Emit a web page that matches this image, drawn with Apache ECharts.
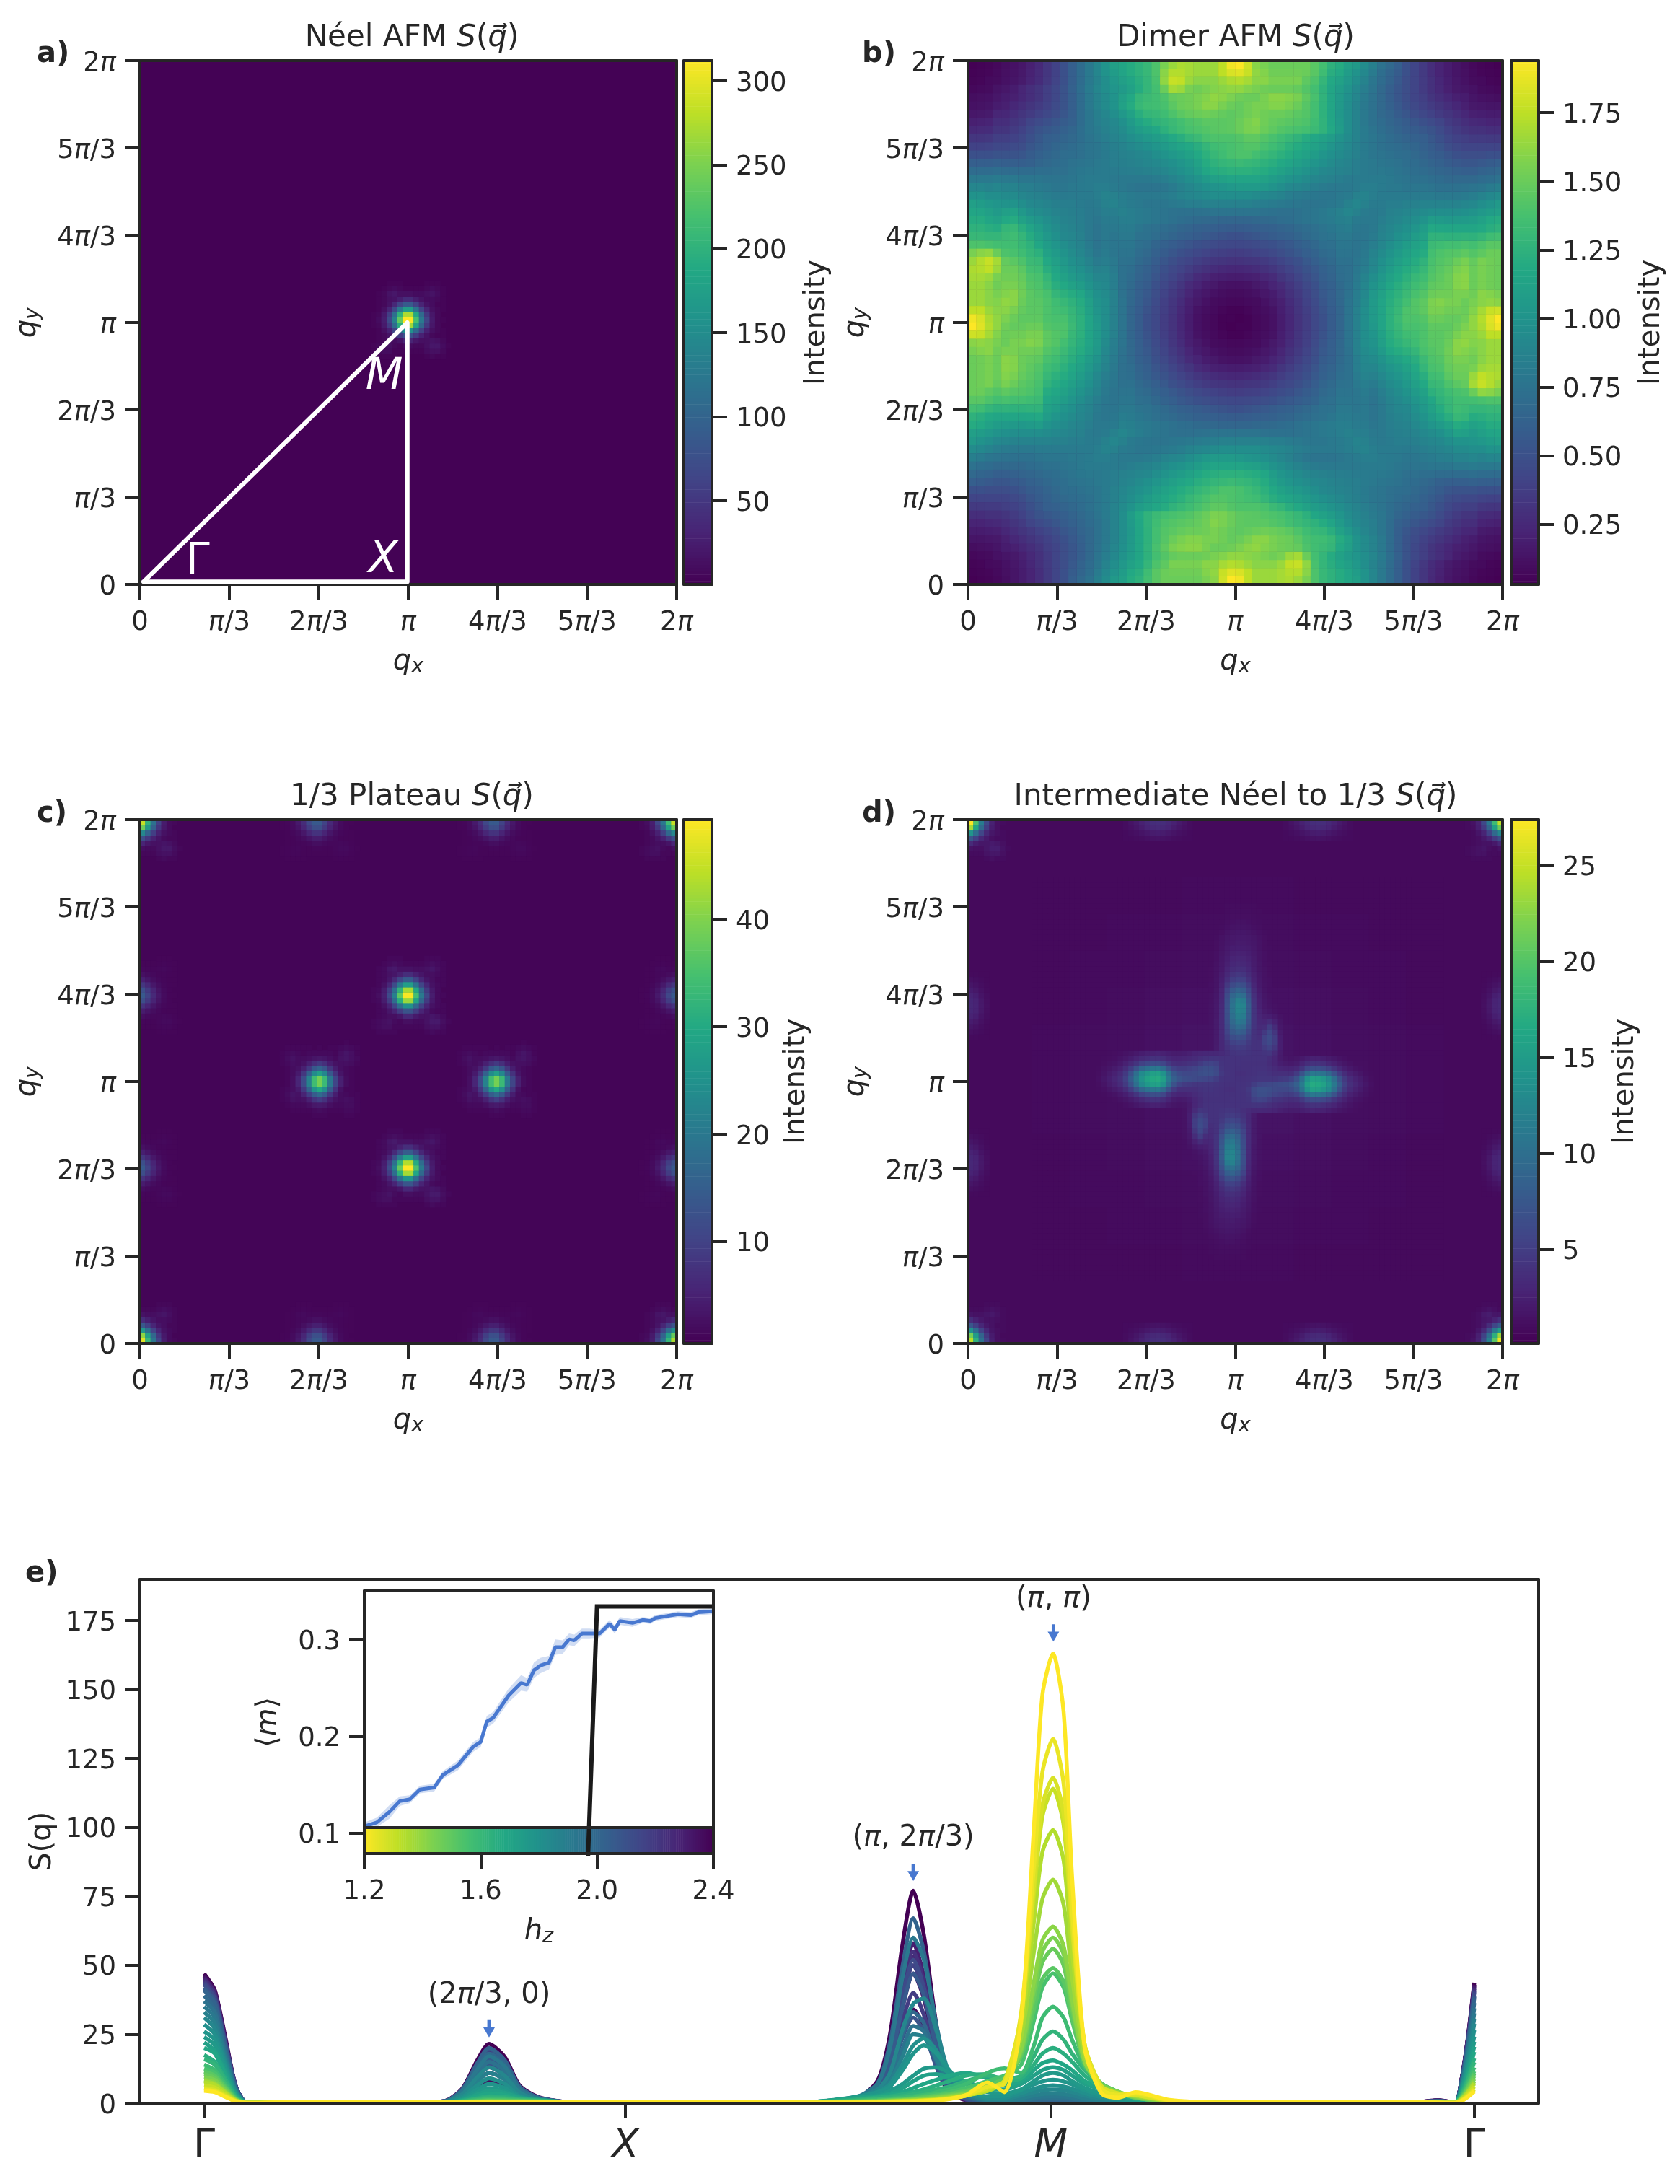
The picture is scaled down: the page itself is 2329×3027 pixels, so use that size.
<!DOCTYPE html>
<html>
<head>
<meta charset="utf-8">
<style>html,body{margin:0;padding:0;background:#fff}#chart{width:2329px;height:3027px}</style>
<script src="https://cdn.jsdelivr.net/npm/echarts@6/dist/echarts.min.js"></script>
</head>
<body>
<div id="chart"></div>
<script>
var piTicks = ['0', '{i|π}/3', '2{i|π}/3', '{i|π}', '4{i|π}/3', '5{i|π}/3', '2{i|π}'];
var viridisStops = ['#440154', '#482475', '#414487', '#355f8d', '#2a788e', '#21918c', '#22a884', '#44bf70', '#7ad151', '#bddf26', '#fde725'];

// panels a, c: shape of one bright spot, percent of its peak, 15 x 15 cells, top row first
var spotProfile = [
    [0,0,0,1,1,1,0,0,0,0,1,1,1,0,0],
    [0,0,1,2,3,2,1,1,1,1,2,3,2,1,0],
    [0,1,2,5,6,4,4,4,3,3,4,5,3,1,0],
    [0,1,2,4,5,8,12,12,8,5,3,3,2,1,0],
    [0,1,2,5,11,20,28,28,19,10,5,3,1,1,0],
    [0,1,4,10,22,40,55,55,38,20,10,4,2,1,0],
    [1,2,7,18,36,64,87,87,60,34,16,6,2,0,0],
    [1,3,8,22,43,75,100,100,70,40,20,7,2,1,0],
    [1,2,7,17,35,62,85,85,58,33,16,6,2,0,0],
    [0,1,4,9,20,36,50,50,34,19,9,4,2,1,0],
    [0,1,2,5,9,17,25,25,17,9,5,2,1,1,0],
    [0,1,2,3,3,5,10,10,6,4,4,5,4,2,0],
    [1,2,3,4,2,1,3,3,2,2,4,6,6,3,1],
    [1,2,3,3,1,1,1,1,1,1,3,4,4,2,0],
    [0,1,1,1,1,0,0,0,0,0,1,2,1,1,0]
];
var neelSpotX = [50], neelSpotY = [50], neelSpotPeak = [312];
var plateauSpotX = [50, 50, 0, 0, 100, 100, 0, 0, 100, 100, 33, 66, 33, 66];
var plateauSpotY = [66, 33, 0, 99, 0, 99, 33, 66, 33, 66, 0, 0, 99, 99];
var plateauSpotPeak = [48, 49, 46, 44, 42, 44, 13, 13, 13, 13, 13, 13, 13, 13];
var plateauSideX = [33, 66], plateauSideY = [50, 50], plateauSidePeak = [38, 38];

// panel b: top triangle of a 64 x 64 map, value x 100, row r runs from column r to column 63-r
var dimerRows = [
    [3,4,5,7,10,12,15,20,25,33, 40,50,60,70,80,90,100,110,115,120, 125,130,140,155,165,170,168,165,165,165, 175,190,194,180,160,155,150,150,150,150, 150,144,136,125,120,110,105,95,85,75, 68,60,50,42,35,28,22,18,14,10, 7,5,4,3],
    [5,6,8,11,13,16,21,26,33, 40,50,60,70,80,90,100,108,114,120, 125,130,140,160,172,172,168,165,165,165, 175,183,185,178,162,158,152,152,152,152, 150,144,134,122,118,108,100,92,82,72, 65,58,50,42,35,28,22,18,14,11, 8,6,5],
    [8,9,12,14,17,22,27,34, 41,50,60,70,80,88,96,104,110,115, 122,128,138,162,178,176,165,160,160,160, 165,170,172,168,160,160,155,155,155,155, 146,140,128,118,112,104,96,88,78,70, 63,56,48,42,36,30,24,19,15,12, 9,8],
    [13,15,18,23,28,32,38, 44,52,62,72,82,90,96,102,106,112, 120,128,136,150,168,165,155,152,155,158, 160,162,162,158,155,152,150,150,150,148, 142,136,125,115,108,100,92,84,76,68, 60,54,48,42,36,30,25,20,16,14, 12],
    [18,20,24,28,32,38, 44,52,60,70,80,88,94,100,110,118, 128,132,135,140,148,150,152,155,158,162, 160,156,152,150,150,155,160,160,158,155, 146,138,126,115,106,98,90,82,75,68, 60,54,48,42,38,32,28,24,20,18],
    [24,28,32,36,40, 46,52,60,70,80,88,94,100,112,120, 130,134,135,138,145,150,152,155,160,160, 155,150,148,152,155,155,158,158,155,150, 143,136,125,115,105,96,88,80,74,68, 62,56,50,45,40,36,32,28,24],
    [32,36,40,44, 48,54,60,70,78,85,90,96,104,112, 122,128,130,134,140,145,148,150,152,150, 148,146,148,152,155,152,150,150,148,145, 142,136,125,115,104,96,88,80,74,68, 64,58,54,48,44,40,36,32],
    [42,46,50, 54,58,62,70,78,84,88,92,98,106, 114,120,125,128,132,136,140,142,145,145, 145,146,150,155,158,152,148,146,144,142, 140,134,126,116,106,96,88,80,74,70, 66,62,58,54,50,46,42],
    [52,55, 58,62,66,72,78,82,86,90,95,102, 108,112,116,124,130,134,138,140,142,144, 145,146,150,155,156,150,146,142,140,138, 136,132,126,118,108,96,88,82,76,72, 68,64,60,58,55,52],
    [60, 62,65,68,72,76,80,84,88,92,96, 100,104,108,112,118,122,128,132,138,140, 140,140,142,146,146,142,138,134,130,126, 120,116,112,108,100,94,88,82,78,74, 70,67,64,62,60],
    [66,68,70,73,76,78,82,85,88,92, 95,98,102,106,110,114,118,122,128,134, 136,138,140,142,142,138,134,130,124,120, 116,112,108,102,96,92,86,82,78,74, 72,70,68,66],
    [71,72,73,76,78,81,84,86,88, 90,92,96,100,104,108,112,118,124,130, 134,138,140,140,136,132,128,124,120,116, 112,108,102,98,94,90,86,82,78,76, 74,72,71],
    [75,76,78,80,82,84,85,86, 88,90,92,95,98,102,106,112,120,125, 128,130,132,130,128,125,122,118,114,110, 106,102,98,94,90,88,84,82,80,78, 76,75],
    [79,80,81,82,82,83,84, 85,86,88,90,94,98,102,108,116,120, 122,124,124,124,122,120,116,112,108,104, 100,96,92,90,88,86,84,82,80,80, 79],
    [82,82,82,80,80,80, 80,80,82,84,88,92,96,100,106,110, 112,114,114,114,114,112,108,104,100,98, 94,90,88,86,84,82,82,82,82,82],
    [84,84,82,80,78, 76,76,76,78,82,86,90,94,98,100, 102,104,106,106,106,104,100,96,92,90, 88,84,82,80,80,80,82,84,84],
    [88,86,84,82,80,80,80,82,84,88,90,92,94,96,96,96, 96,96,94,92,90,88,84,82,80,79,78,78,80,82,86,88],
    [88,84,82,80,78,78,78,80,82,84,84,86,86,86,86, 86,86,84,83,82,80,79,78,76,76,77,79,81,86,90],
    [86,84,82,80,78,76,75,74,74,74,75,76,76,76, 76,76,76,75,74,73,73,74,76,78,80,83,86,90],
    [84,82,80,78,76,74,72,70,69,68,67,66,66, 66,66,67,68,69,71,72,74,76,78,80,82,85],
    [78,75,73,71,69,66,64,62,61,60,59,58, 58,59,60,61,62,64,66,69,71,73,76,79],
    [74,71,68,65,62,60,58,56,54,52,50, 50,52,54,56,58,60,62,65,69,72,75],
    [65,62,59,56,53,50,48,46,45,44, 44,45,46,48,50,53,56,60,63,67],
    [58,54,50,47,44,41,39,38,37, 37,38,40,42,45,48,52,56,60],
    [49,45,42,38,35,33,32,31, 31,32,33,35,38,42,46,50],
    [41,37,33,30,27,25,24, 24,25,27,30,33,37,41],
    [32,26,23,20,19,18, 18,19,20,23,26,32],
    [22,18,16,13,12, 12,13,16,18,22],
    [15,12,10,9, 9,10,12,15],
    [9,8,7, 7,8,9],
    [6,4, 4,6],
    [4,3]
];

// panel d: upper arm, rows dy = 33..1 above the centre, columns dx = -5..9
var crossUpperArm = [
    [.8,.9,.9,1,1,1,1,1,1,.9,.9,.8,.8,.8,.8],
    [.8,.9,.9,1,1.1,1.1,1.1,1.1,1,1,.9,.8,.8,.8,.8],
    [.9,.9,1,1.1,1.2,1.2,1.2,1.2,1.1,1,.9,.9,.8,.8,.8],
    [.9,.9,1,1.2,1.3,1.4,1.4,1.3,1.2,1.1,1,.9,.9,.8,.8],
    [.9,1,1.1,1.3,1.5,1.6,1.6,1.5,1.3,1.2,1,.9,.9,.8,.8],
    [1,1,1.2,1.5,1.7,1.8,1.8,1.7,1.5,1.3,1.1,1,.9,.9,.8],
    [1,1.1,1.4,1.7,1.9,2,2,1.9,1.7,1.4,1.2,1,1,.9,.9],
    [1,1.2,1.5,1.8,2,2.2,2.1,2,1.8,1.5,1.2,1,1,.9,.9],
    [1,1.2,1.6,2,2.3,2.4,2.3,2.2,1.9,1.5,1.2,1.1,1,1,.9],
    [1.1,1.3,1.7,2.1,2.5,2.7,2.6,2.4,2,1.6,1.3,1.1,1,1,.9],
    [1.1,1.3,1.8,2.3,2.8,3,2.9,2.6,2.1,1.6,1.3,1.1,1,1,.9],
    [1.1,1.4,1.9,2.5,3.1,3.3,3.2,2.8,2.2,1.7,1.3,1.2,1,1,.9],
    [1.2,1.5,2,2.8,3.5,3.8,3.7,3.1,2.3,1.7,1.4,1.2,1,1,.9],
    [1.2,1.5,2.2,3.2,4.1,4.5,4.3,3.5,2.5,1.8,1.4,1.2,1,1,.9],
    [1.2,1.6,2.4,3.7,5,5.4,5.2,4,2.7,1.9,1.4,1.3,1.1,1,1],
    [1.3,1.6,2.6,4.5,6.2,7,6.6,5,3,2,1.5,1.3,1.1,1,1],
    [1.3,1.7,2.9,5.5,7.8,8.8,8.2,6,3.4,2.2,1.6,1.3,1.2,1,1],
    [1.4,1.8,3,6.2,9,10.3,9.8,6.8,3.8,2.4,1.7,1.4,1.2,1,1],
    [1.4,1.9,3.2,6.6,10,12,11.5,7.5,4,2.5,1.8,1.5,1.3,1.1,1],
    [1.5,2,3.3,6.8,10.5,12.6,12.2,8,4.2,2.6,1.9,1.6,1.4,1.2,1.1],
    [1.5,2,3.4,6.8,10.5,12.4,12,8,4.2,2.8,2.1,1.8,1.5,1.3,1.1],
    [1.5,2,3.4,6.6,10,11.8,11.5,7.8,4.2,3,2.5,2.4,2,1.5,1.2],
    [1.5,2.1,3.4,6.4,9.4,11,10.6,7.4,4.2,3.2,3,3.5,2.6,1.7,1.3],
    [1.6,2.1,3.4,6,8.6,9.8,9.4,6.8,4.2,3.4,3.6,5,3.5,1.9,1.4],
    [1.6,2.1,3.4,5.6,7.6,8.4,8,6,4,3.6,4.6,6,4.4,2.1,1.4],
    [1.6,2.1,3.3,5,6.4,6.9,6.6,5.2,4,3.8,5.4,6.4,5,2.3,1.5],
    [1.6,2.1,3.2,4.4,5.4,5.8,5.6,4.7,4,4,5.4,6.2,5,2.4,1.5],
    [1.6,2.2,3.2,4,4.6,4.9,4.8,4.4,4,4,4.8,5.4,4.4,2.4,1.5],
    [1.7,2.4,3.2,3.8,4.2,4.4,4.4,4.2,4,4,4.2,4.4,3.4,2.2,1.5],
    [1.9,2.8,3.4,3.8,4,4,4,4,4,4,4,3.6,3,2.1,1.6],
    [2.3,3,3.6,3.8,4,4,3.9,3.9,3.9,3.9,3.9,3.5,3,2.3,2],
    [3,3.6,3.9,4,4,3.9,3.9,3.8,3.8,3.8,3.8,3.6,3.2,3,2.8],
    [4,4,4,4,3.9,3.8,3.8,3.8,3.8,3.8,3.8,3.8,3.8,3.8,3.8]
];
// panel d: left arm, rows dy = 5..-5, columns dx = -26..-1
var crossLeftArm = [
    [1,1,1.1,1.2,1.3,1.5,1.7,2,2.3,2.6,2.7,2.8,2.6,2.4,2.2,2.2,2.3,2.5,2.8,3,3.1,3.2,3.2,3.4,3.8,4],
    [1,1.1,1.2,1.3,1.6,1.9,2.3,2.8,3.3,3.7,4,4,3.8,3.2,2.8,2.8,3,3.2,3.4,3.8,4,4.2,4.2,4,4,4],
    [1,1.2,1.4,1.6,2,2.6,3.3,4.2,5.3,6,6.4,6.4,5.8,4.6,3.8,3.6,3.8,4,4.2,4.8,5.4,5.6,5.2,4.2,4,4],
    [1.1,1.4,1.7,2.1,2.6,3.6,5,7,9,10.2,10.8,11,9.8,7.4,5.5,5,5,5.2,5.6,6.2,6.6,6.6,6,4.4,4,4],
    [1.2,1.6,2.1,2.6,3.3,4.6,7,10,13,14.4,15.4,15.6,14,10.4,7.5,6.4,6,6,6.2,6.6,6.8,6.8,6.2,4.6,4.1,4],
    [1.3,1.8,2.4,3,3.8,5.2,8,11,14,15.8,16.6,16.8,15.4,11.4,8.4,7.2,6.6,6.4,6.2,6,5.8,5.6,5,4.2,4,4],
    [1.2,1.6,2.2,2.7,3.4,4.7,7,10,13,14.6,15.4,15.6,14,10.2,7,5.4,4.8,4.6,4.4,4.4,4.4,4.4,4.2,4,3.9,3.9],
    [1.1,1.3,1.7,2.1,2.6,3.5,5,7,9.2,10.4,10.8,11,9.6,7,4.8,3.8,3.6,3.6,3.8,4,4.2,4.2,4,3.9,3.8,3.8],
    [1,1.1,1.3,1.5,1.9,2.4,3.2,4.2,5.4,6.2,6.6,6.6,5.8,4.2,3.2,2.8,2.8,3,3.4,3.8,4,4,4,3.9,3.8,3.8],
    [1,1,1.1,1.2,1.4,1.7,2.1,2.6,3.2,3.8,4,4,3.6,2.8,2.2,2,2.1,2.4,2.8,3.2,3.4,3.6,3.8,3.8,3.8,3.8],
    [.9,1,1,1,1.1,1.3,1.5,1.8,2.1,2.4,2.6,2.6,2.4,2,1.7,1.6,1.7,1.9,2.2,2.4,2.6,2.8,3.2,3.6,3.6,3.6]
];
// panel d: low glow round the cross, blocks of 7 x 7 cells
var crossHalo = [
    [.8,.8,.8,.8,.9,.9,.9,.8,.8,.8,.8],
    [.8,.8,.9,.9,1,1,1,.9,.9,.8,.8],
    [.8,.9,.9,1,1.1,1.2,1.1,1,.9,.9,.8],
    [.8,.9,1,1.2,1.3,1.4,1.3,1.2,1,.9,.8],
    [.9,1,1.1,1.3,1.5,1.6,1.5,1.3,1.1,1,.9],
    [.9,1,1.2,1.4,1.6,1.8,1.6,1.4,1.2,1,.9],
    [.9,1,1.1,1.3,1.5,1.6,1.5,1.3,1.1,1,.9],
    [.8,.9,1,1.2,1.3,1.4,1.3,1.2,1,.9,.8],
    [.8,.9,.9,1,1.1,1.2,1.1,1,.9,.9,.8],
    [.8,.8,.9,.9,1,1,1,.9,.9,.8,.8],
    [.8,.8,.8,.8,.9,.9,.9,.8,.8,.8,.8]
];
// panel d: faint blob on the edges, row 0 lies on the edge
var crossEdgeBlob = [
    [1,1.5,2,2.6,3.2,3.6,3.7,3.6,3.2,2.6,2,1.5,1],
    [1,1.3,1.7,2.2,2.8,3.2,3.3,3.2,2.8,2.2,1.7,1.3,1],
    [.9,1.1,1.3,1.6,1.9,2.2,2.3,2.2,1.9,1.6,1.3,1.1,.9],
    [.9,.9,1,1.1,1.3,1.4,1.5,1.4,1.3,1.1,1,.9,.9]
];
var crossBlobPos = [35, 65];
var crossCornerPeak = [27, 24, 24, 26];

// panel e: path positions, Gamma = 0, X = 1, M = 2, Gamma = 3
var qGamma = [0, .025, .05, .075, .1];
var qFlatA = [.2, .35, .5];
var qPeak1 = [.57, .61, .645, .673, .71, .745, .79];
var qFlatB = [.87, 1, 1.2, 1.36];
var qBand = [1.45, 1.53, 1.59, 1.62, 1.65, 1.675, 1.7, 1.73, 1.76, 1.8, 1.85, 1.89, 1.93, 1.96, 1.98, 2.005, 2.03, 2.05, 2.08, 2.12, 2.16, 2.2, 2.28, 2.4];
var qFlatC = [2.5, 2.7, 2.86];
var qEnd = [2.915, 2.955, 2.97, 2.985, 3];
var flatLevel = 0.3, tailLevel = 0.2;
var curveHz = [2.4,2.37,2.33,2.3,2.26,2.23,2.19,2.16,2.13,2.09,2.06,2.02,1.99,1.95,1.92,1.88,1.85,1.81,1.78,1.76,1.72,1.69,1.65,1.62,1.58,1.55,1.51,1.48,1.44,1.41,1.37,1.34,1.3,1.27,1.235,1.2];
var gammaRows = [
    [47,41,24,6,.4],[46.5,41,23,6,.4],[46,40,23,6,.4],[45.5,40,23,6,.4],[45,40,22,6,.4],[44.5,39,22,6,.4],[44,39,22,6,.4],[43.5,38,22,6,.4],[43,38,21,6,.4],
    [42,37,21,5.5,.4],[41.5,37,21,5.5,.4],[41,36,20,5.3,.4],[39,34,19,5,.4],[37,33,18,4.8,.4],[35,31,17,4.6,.3],[33,29,16,4.3,.3],[31,27,15,4,.3],[28.5,25,14,3.7,.3],
    [26,23,13,3.4,.3],[24,21,12,3.1,.3],[22,19,11,2.9,.2],[20,18,10,2.6,.2],[17.5,15,8.8,2.3,.2],[16,14,8,2.1,.2],[14,12,7,1.8,.2],[12.5,11,6.2,1.6,.2],[11.5,10,5.7,1.5,.2],
    [10.5,9.2,5.2,1.4,.1],[9.5,8.4,4.7,1.2,.1],[8.5,7.5,4.2,1.1,.1],[8,7,4,1,.1],[7.5,6.6,3.7,1,.1],[6.5,5.7,3.2,.9,.1],[5.5,4.8,2.8,.8,.1],[5,4.4,2.5,.7,.1],[4.5,4,2.3,.6,.1]
];
var peak1Rows = [
    [.9,5.4,15.5,21.5,16.8,6.5,2.2],[.3,2,5.8,8,6.2,2.4,.8],[.5,3.3,9.4,13,10,3.9,1.3],[.8,4.8,13.7,19,14.8,5.7,1.9],[.6,3.8,10.8,15,11.7,4.5,1.5],[.8,5,14.4,20,15.6,6,2],
    [.4,2.8,7.9,11,8.6,3.3,1.1],[.7,4.3,12.2,17,13.3,5.1,1.7],[.8,4.9,14,19.5,15.2,5.9,2],[.6,3.5,10,14,10.9,4.2,1.4],[.6,4,11.5,16,12.5,4.8,1.6],[.8,5,14.4,20,15.6,6,2],
    [.7,4.5,13,18,14,5.4,1.8],[.6,3.8,10.8,15,11.7,4.5,1.5],[.7,4.3,12.2,17,13.3,5.1,1.7],[.4,2.8,7.9,11,8.6,3.3,1.2],[.5,3.3,9.4,13,10,3.9,1.3],[.4,2.3,6.5,9,7,2.7,1.2],
    [.3,1.8,5,7,5.5,2.4,1.2],[.3,1.4,4,5.5,4.4,2.2,1.2],[.3,1.2,3.2,4.5,3.8,2,1.2],[.3,1,2.5,3.5,3,1.8,1.1],[.3,.8,1.8,2.5,2.2,1.5,1],[.3,.7,1.5,2,1.8,1.3,.9],
    [.3,.6,1.1,1.5,1.4,1.1,.8],[.3,.5,.9,1.2,1.1,.9,.7],[.3,.4,.8,1,.9,.8,.6],[.3,.4,.6,.8,.8,.7,.5],[.3,.3,.5,.7,.6,.5,.4],[.3,.3,.5,.6,.6,.5,.4],
    [.3,.3,.4,.5,.5,.4,.3],[.3,.3,.4,.5,.5,.4,.3],[.3,.3,.4,.5,.5,.4,.3],[.3,.3,.4,.5,.5,.4,.3],[.3,.3,.4,.5,.5,.4,.3],[.3,.3,.4,.5,.5,.4,.3]
];
var bandRows = [
    [.2,.8,8,25,58,77,61,28,8,2,.5],[.2,.6,4,11,26,34,28,13,4,1],[.2,.7,5,15,35,47,38,17,5,1.2],[.2,.8,6,19,44,58,46,21,6,1.5],[.2,.7,5,17,40,53,42,20,6,1.5],[.2,.8,6,18,42,55,44,20,6,1.5],
    [.2,.6,4,13,30,40,32,15,5,1.3],[.2,.8,5,17,38,50,40,19,6,1.6],[.3,.9,5,17,39,52,42,21,7,2],[.3,.6,3,10,24,31,26,13,5,1.6],[.3,.9,5,15,35,47,39,20,7,2],[.3,1,7,22,50,67,55,27,9,2.5,.5],
    [.3,1,4,11,25,33,29,16,7,2.5,.6,.4,.7,1.1,1.4,1.5,1.4,1.1,.7,.4],
    [.3,1,4,9,20,28,26,15,7,3,.8,.6,1,1.6,1.9,2,1.9,1.6,1,.5,.3],
    [.4,1.5,7,20,46,60,52,28,10,3,1,.8,1.3,2,2.4,2.5,2.4,2,1.3,.7,.3],
    [.4,1.5,4,8,17,25,24,16,8,3.5,1.2,1,1.8,2.8,3.3,3.5,3.3,2.8,1.8,1,.5],
    [.5,2,5,11,27,36,38,26,11,4,1.5,1.5,2.8,4,4.7,5,4.7,4,2.7,1.6,.8,.3],
    [.5,2,4,7,14,21,23.5,19,10,4.5,2,2,3.6,5.2,6,6.5,6,5.2,3.6,2.2,1.2,.5],
    [.6,2,4,6,12,18,21,18,12,5,2.5,2.6,4.7,6.8,7.9,8.5,7.9,6.8,4.7,2.8,1.5,.7,.3],
    [.6,2,3,4.5,7,10,12.5,13,11,7,4,3.5,5,8,10,11,10,8,5.5,3.5,2,1,.4],
    [.6,1.8,2.6,3.5,5.5,8,10,10.5,9.5,8,5,5,7,10,12,13,12,10,7,5,3,1.5,.5],
    [.6,1.5,2.3,3,4,5.5,7,8.5,10,11,9,6.5,8,12,14.5,15.5,14,12,8,5,3,1.5,.5],
    [.5,1.2,2,2.5,3.2,4,5,6.5,8,10,10.5,8,9,14,18,20,18,15,10,6,3.5,1.8,.5],
    [.4,1,1.6,2,2.6,3.2,4,5,6,8,10,9,10,17,23,26,23,18,12,7,4,2,.6],
    [.3,.8,1.3,1.6,2,2.5,3,4,5,7,11,12.6,11,21,31,35,31,23,13,7,4,2,.6],
    [.3,.7,1,1.3,1.6,2,2.6,3.3,4,5.5,8,10,14,30,42,47,42,30,15,7,4,2,.6],
    [.2,.6,.9,1.1,1.4,1.7,2.2,2.8,3.4,4.5,6.5,9,17,34,45,49,44,31,14,7,4,2,.6],
    [.2,.5,.8,1,1.2,1.5,1.9,2.4,3,4,5.5,8,18,38,51,56,50,34,15,7,4,2,.6],
    [.2,.4,.7,.9,1.1,1.3,1.6,2.1,2.7,3.5,5,8,19,41,55,60,54,36,15,6.5,4,2.2,.6],
    [.2,.4,.6,.8,1,1.2,1.4,1.8,2.4,3.2,4.5,7.5,20,44,59,64,57,38,15,6,4,2.4,.7],
    [.2,.3,.5,.7,.9,1,1.2,1.6,2.1,3,4.5,8,24,55,74,81,72,46,17,6,3.5,2.6,.8],
    [.2,.3,.5,.6,.8,.9,1.1,1.4,1.9,2.8,4.5,8,28,66,91,99,88,55,19,6,3.5,2.8,.8],
    [.2,.3,.4,.6,.7,.8,1,1.3,1.8,2.8,5,8,31,76,104,114,101,63,21,6,3.5,3,.9],
    [.2,.3,.4,.5,.7,.8,1,1.2,1.7,2.8,5.5,8,32,79,108,118,105,65,21,6,3.5,3,.9],
    [.2,.3,.4,.5,.6,.7,.9,1.2,1.6,2.8,6,7,33,86,120,132,116,70,21,5,3,3.5,1],
    [.2,.2,.3,.4,.5,.6,.8,1.1,1.5,3,7.5,4,30,100,148,163,142,82,20,3.5,2,4,1.2]
];
var endRows = [
    [1.1,.2,8.7,24,43.7],[1,.2,8.6,23.6,43],[1,.2,8.6,23.5,42.8],[1,.2,8.5,23.3,42.3],[.9,.2,8.4,23,41.9],[.9,.2,8.3,22.8,41.4],[.9,.2,8.2,22.5,40.9],[.9,.2,8.1,22.3,40.5],[.8,.2,8,22,40],
    [.8,.2,7.8,21.5,39],[.8,.2,7.7,21.2,38.6],[.7,.2,7.6,21,38.1],[.7,.2,7.3,20,36.3],[.6,.2,6.9,18.9,34.4],[.6,.2,6.5,17.9,32.6],[.5,.2,6.1,16.9,30.7],[.5,.2,5.8,15.8,28.8],[.5,.2,5.3,14.6,26.5],
    [.4,.2,4.8,13.3,24.2],[.4,.2,4.5,12.3,22.3],[.4,.2,4.1,11.3,20.5],[.3,.2,3.7,10.2,18.6],[.3,.2,3.3,9,16.3],[.3,.2,3,8.2,14.9],[.3,.2,2.6,7.2,13],[.2,.2,2.3,6.4,11.6],[.2,.2,2.1,5.9,10.7],
    [.2,.2,2,5.4,9.8],[.2,.2,1.8,4.8,8.8],[.2,.1,1.6,4.3,7.9],[.2,.1,1.5,4.1,7.4],[.2,.1,1.4,3.9,7],[.2,.1,1.2,3.3,6],[.2,.1,1,2.8,5.1],[.2,.1,.9,2.6,4.7],[.2,.1,.8,2.3,4.2]
];
var xTickValues = [0, .995, 2, 3];
var xTickLabels = ['Γ', '{i|X}', '{i|M}', 'Γ'];
var sTicks = [0, 25, 50, 75, 100, 125, 150, 175];
var annotQ = [.673, 1.675, 2.006];
var annotArrowY = [27, 83.7, 170.5];
var annotTextY = [39, 96, 182.8];
var annotText = ['(2{i|π}/3, 0)', '({i|π}, 2{i|π}/3)', '({i|π}, {i|π})'];

// inset
var insetHz = [1.2,1.243,1.287,1.322,1.357,1.391,1.44,1.47,1.522,1.574,1.6,1.621,1.643,1.696,1.739,1.76,1.783,1.805,1.835,1.857,1.882,1.904,1.922,1.948,1.974,2.009,2.043,2.061,2.078,2.122,2.157,2.183,2.2,2.278,2.322,2.348,2.396];
var insetM = [.107,.111,.122,.133,.135,.145,.147,.16,.17,.189,.194,.215,.219,.242,.255,.253,.268,.273,.276,.292,.292,.3,.299,.306,.306,.306,.316,.31,.319,.317,.32,.319,.322,.326,.325,.328,.329];
var insetErr = [.004,.005,.007,.005,.004,.004,.004,.004,.005,.005,.005,.006,.006,.007,.008,.007,.008,.008,.007,.008,.007,.006,.006,.005,.005,.004,.004,.004,.004,.004,.003,.003,.003,.003,.003,.003,.003];
var plateauHz = [1.2, 1.96, 2, 2.4];
var plateauM = [0, 0, .334, .334];

var FONT = 'DejaVu Sans', INK = '#262626', TICK_SIZE = 37, GRID_N = 100;
var richI = {i: {fontFamily: FONT, fontStyle: 'italic', fontSize: TICK_SIZE, color: INK}};

function viridis(t) {
    t = Math.max(0, Math.min(1, t)) * (viridisStops.length - 1);
    var i = Math.min(Math.floor(t), viridisStops.length - 2), f = t - i;
    var a = viridisStops[i], b = viridisStops[i + 1], out = [];
    for (var k = 1; k < 7; k += 2) {
        out.push(Math.round(parseInt(a.substr(k, 2), 16) * (1 - f) + parseInt(b.substr(k, 2), 16) * f));
    }
    return 'rgb(' + out.join(',') + ')';
}

var option = {
    animation: false, backgroundColor: '#fff', textStyle: {fontFamily: FONT, color: INK},
    title: [], grid: [], xAxis: [], yAxis: [], series: [], visualMap: []
};

function catData(n) {
    var d = [];
    for (var i = 0; i < n; i++) d.push(i);
    return d;
}
function lineAxis(extra) {
    var a = {show: true, z: 5, silent: true, splitLine: {show: false}, axisLine: {show: true, onZero: false, lineStyle: {color: INK, width: 4}},
        axisTick: {show: false}, axisLabel: {show: false}};
    for (var k in extra) a[k] = extra[k];
    return a;
}
function tickAxis(extra, margin, fmt, values) {
    var a = lineAxis(extra);
    a.axisTick = {show: true, length: 21, lineStyle: {color: INK, width: 4}};
    a.axisLabel = {show: true, margin: margin, color: INK, fontFamily: FONT, fontSize: TICK_SIZE, formatter: fmt, rich: richI};
    if (extra.position == 'left' || extra.position == 'right') a.axisLabel.padding = [8, 0, 0, 0];
    if (values) {
        a.axisTick.customValues = values;
        a.axisLabel.customValues = values;
    }
    return a;
}
function addTitle(text, x, y, size, weight, align) {
    option.title.push({text: text, left: x, top: y, textAlign: align, textVerticalAlign: 'middle',
        textStyle: {fontFamily: FONT, fontSize: size, fontWeight: weight, color: INK,
            rich: {i: {fontFamily: FONT, fontStyle: 'italic', fontSize: size, color: INK}}}});
}
function subName(base, sub) {
    return '{b|' + base + '}{s|' + sub + '}';
}
var nameRich = {
    b: {fontFamily: FONT, fontStyle: 'italic', fontSize: 40, color: INK},
    s: {fontFamily: FONT, fontStyle: 'italic', fontSize: 29, color: INK, padding: [14, 0, 0, 0]}
};

// one heat map with its colour bar; returns the axis indexes of the panel
function addHeatPanel(p) {
    var g = option.grid.length;
    option.grid.push({left: p.x0, top: p.y0, width: p.x1 - p.x0, height: p.y1 - p.y0, show: true, borderWidth: 0,
        backgroundColor: viridis((p.bg - p.min) / (p.max - p.min))});
    var xi = option.xAxis.length, yi = option.yAxis.length;
    option.xAxis.push(lineAxis({type: 'category', gridIndex: g, position: 'top', data: catData(p.n)}));
    option.yAxis.push(lineAxis({type: 'category', gridIndex: g, position: 'right', data: catData(p.n)}));
    var fmtPi = function(v) { return piTicks[Math.round(v)]; };
    var xv = tickAxis({type: 'value', gridIndex: g, position: 'bottom', min: 0, max: 6, interval: 1,
        name: subName('q', 'x'), nameLocation: 'middle', nameGap: 86, nameTextStyle: {rich: nameRich}}, 35, fmtPi);
    var yv = tickAxis({type: 'value', gridIndex: g, position: 'left', min: 0, max: 6, interval: 1,
        name: subName('q', 'y'), nameLocation: 'middle', nameGap: 134, nameRotate: 90, nameTextStyle: {rich: nameRich}}, 33, fmtPi);
    option.xAxis.push(xv);
    option.yAxis.push(yv);
    var heatIdx = option.series.length;
    option.series.push({type: 'heatmap', xAxisIndex: xi, yAxisIndex: yi, data: p.cells, silent: true, progressive: 0, emphasis: {disabled: true}});

    // colour bar
    var cg = option.grid.length, levels = [], N = 160;
    option.grid.push({left: p.cx0, top: p.y0, width: p.cx1 - p.cx0, height: p.y1 - p.y0, show: false});
    for (var i = 0; i < N; i++) levels.push([0, i, p.min + (i + .5) / N * (p.max - p.min)]);
    var cxi = option.xAxis.length, cyi = option.yAxis.length;
    option.xAxis.push(lineAxis({type: 'category', gridIndex: cg, position: 'bottom', data: [0]}));
    option.xAxis.push(lineAxis({type: 'value', gridIndex: cg, position: 'top', min: 0, max: 1}));
    option.yAxis.push(lineAxis({type: 'category', gridIndex: cg, position: 'left', data: catData(N)}));
    option.yAxis.push(tickAxis({type: 'value', gridIndex: cg, position: 'right', min: p.min, max: p.max,
        name: 'Intensity', nameLocation: 'middle', nameRotate: 90, nameGap: p.labelGap,
        nameTextStyle: {fontFamily: FONT, fontSize: 40, color: INK}}, 33,
        function(v) { return v.toFixed(p.digits); }, p.ticks));
    var barIdx = option.series.length;
    option.series.push({type: 'heatmap', xAxisIndex: cxi, yAxisIndex: cyi, data: levels, silent: true, progressive: 0, emphasis: {disabled: true}});
    option.visualMap.push({show: false, type: 'continuous', seriesIndex: [heatIdx, barIdx], dimension: 2, min: p.min, max: p.max, inRange: {color: viridisStops}});
    return {x: xi + 1, y: yi + 1};
}

// cells of a GRID_N x GRID_N map, only those above the background
function putCell(map, x, y, v) {
    if (x < 0 || y < 0 || x >= GRID_N || y >= GRID_N) return;
    var k = y * GRID_N + x;
    if (!(k in map) || map[k] < v) map[k] = v;
}
function stampSpots(map, bg, xs, ys, peaks, swap) {
    for (var s = 0; s < xs.length; s++) {
        for (var r = 0; r < 15; r++) {
            for (var c = 0; c < 15; c++) {
                if (spotProfile[r][c] == 0) continue;
                var v = bg + spotProfile[r][c] * peaks[s] / 100;
                if (swap) putCell(map, xs[s] + r - 7, ys[s] + c - 7, v);
                else putCell(map, xs[s] + c - 7, ys[s] + 7 - r, v);
            }
        }
    }
}
function mapCells(map) {
    var out = [];
    for (var k in map) out.push([k % GRID_N, Math.floor(k / GRID_N), map[k]]);
    return out;
}

// panel a
var neelMap = {};
stampSpots(neelMap, 1, neelSpotX, neelSpotY, neelSpotPeak);
var axA = addHeatPanel({x0: 194, x1: 938, y0: 84, y1: 810, cx0: 948, cx1: 987, n: GRID_N, bg: 1, min: .2, max: 312, cells: mapCells(neelMap),
    ticks: [50, 100, 150, 200, 250, 300], digits: 0, labelGap: 126});
var triX = [.04, 2.99, 2.99, .04], triY = [.03, 3, .03, .03];
var triData = [];
for (var i = 0; i < triX.length; i++) triData.push([triX[i], triY[i]]);
option.series.push({type: 'line', xAxisIndex: axA.x, yAxisIndex: axA.y, data: triData, symbol: 'none', silent: true, z: 6,
    lineStyle: {color: '#fff', width: 6, cap: 'round', join: 'round'}});
var pathLabelPos = [[.645, .25], [2.72, .27], [2.73, 2.37]];
var pathLabelText = ['Γ', '{i|X}', '{i|M}'];
for (i = 0; i < pathLabelPos.length; i++) {
    option.series.push({type: 'scatter', xAxisIndex: axA.x, yAxisIndex: axA.y, data: [pathLabelPos[i]], symbolSize: 1, z: 7, silent: true,
        itemStyle: {color: 'rgba(0,0,0,0)', opacity: 1},
        label: {show: true, position: 'inside', formatter: pathLabelText[i], color: '#fff', fontFamily: FONT, fontSize: 60,
            rich: {i: {fontFamily: FONT, fontStyle: 'italic', fontSize: 60, color: '#fff'}}}});
}

// panel b, the other triangles come from the mirror symmetry of the map
var dimerCells = [];
for (var r = 0; r < dimerRows.length; r++) {
    for (var j = 0; j < dimerRows[r].length; j++) {
        var ux = r + j, uy = 63 - r, uv = dimerRows[r][j] / 100;
        dimerCells.push([ux, uy, uv], [63 - ux, 63 - uy, uv], [uy, ux, uv], [63 - uy, 63 - ux, uv]);
    }
}
addHeatPanel({x0: 1342, x1: 2083, y0: 84, y1: 810, cx0: 2095, cx1: 2133, n: 64, bg: .03, min: .03, max: 1.94, cells: dimerCells,
    ticks: [.25, .5, .75, 1, 1.25, 1.5, 1.75], digits: 2, labelGap: 137});

// panel c
var plateauMap = {};
stampSpots(plateauMap, 1, plateauSpotX, plateauSpotY, plateauSpotPeak);
stampSpots(plateauMap, 1, plateauSideX, plateauSideY, plateauSidePeak, true);
addHeatPanel({x0: 194, x1: 938, y0: 1136, y1: 1862, cx0: 948, cx1: 987, n: GRID_N, bg: 1, min: .5, max: 49.3, cells: mapCells(plateauMap),
    ticks: [10, 20, 30, 40], digits: 0, labelGap: 98});

// panel d, each arm has its partner through the centre
var crossMap = {};
for (r = 0; r < crossHalo.length; r++) {
    for (j = 0; j < crossHalo[r].length; j++) {
        for (var hy = 0; hy < 7; hy++) {
            for (var hx = 0; hx < 7; hx++) {
                putCell(crossMap, 50 + (j - 5) * 7 - 3 + hx, 50 + (5 - r) * 7 - 3 + hy, crossHalo[r][j]);
            }
        }
    }
}
for (r = 0; r < crossUpperArm.length; r++) {
    for (j = 0; j < 15; j++) {
        var dx = j - 5, dy = 33 - r;
        putCell(crossMap, 50 + dx, 50 + dy, crossUpperArm[r][j]);
        putCell(crossMap, 49 - dx, 49 - dy, crossUpperArm[r][j]);
    }
}
for (r = 0; r < crossLeftArm.length; r++) {
    for (j = 0; j < 26; j++) {
        dx = j - 26;
        dy = 5 - r;
        putCell(crossMap, 50 + dx, 50 + dy, crossLeftArm[r][j]);
        putCell(crossMap, 49 - dx, 49 - dy, crossLeftArm[r][j]);
    }
}
for (r = 0; r < crossEdgeBlob.length; r++) {
    for (j = 0; j < 13; j++) {
        for (var b = 0; b < crossBlobPos.length; b++) {
            var along = crossBlobPos[b] + j - 6, v = crossEdgeBlob[r][j];
            putCell(crossMap, along, r, v);
            putCell(crossMap, along, 99 - r, v);
            putCell(crossMap, r, 99 - along, v * .85);
            putCell(crossMap, 99 - r, 99 - along, v * .85);
        }
    }
}
stampSpots(crossMap, .7, [0, 100, 0, 100], [99, 99, 0, 0], crossCornerPeak);
addHeatPanel({x0: 1342, x1: 2083, y0: 1136, y1: 1862, cx0: 2095, cx1: 2133, n: GRID_N, bg: .8, min: .1, max: 27.4, cells: mapCells(crossMap),
    ticks: [5, 10, 15, 20, 25], digits: 0, labelGap: 101});

// panel e
var eg = option.grid.length;
option.grid.push({left: 194, top: 2189, width: 1939, height: 726, show: false});
var exi = option.xAxis.length, eyi = option.yAxis.length;
var eXMin = -.1516, eXMax = 3.152, eYMax = 189.9;
var eX = tickAxis({type: 'value', gridIndex: eg, position: 'bottom', min: eXMin, max: eXMax}, 33, function(v) {
    return xTickLabels[xTickValues.indexOf(v)];
}, xTickValues);
eX.axisLabel.fontSize = 54;
eX.axisLabel.rich = {i: {fontFamily: FONT, fontStyle: 'italic', fontSize: 54, color: INK}};
option.xAxis.push(eX);
option.xAxis.push(lineAxis({type: 'value', gridIndex: eg, position: 'top', min: eXMin, max: eXMax}));
option.yAxis.push(tickAxis({type: 'value', gridIndex: eg, position: 'left', min: 0, max: eYMax,
    name: 'S(q)', nameLocation: 'middle', nameGap: 109, nameRotate: 90, nameTextStyle: {fontFamily: FONT, fontSize: 40, color: INK}}, 33,
    function(v) { return String(v); }, sTicks));
option.yAxis.push(lineAxis({type: 'value', gridIndex: eg, position: 'right', min: 0, max: eYMax}));

function pairUp(qs, vals, fallback, out) {
    for (var n = 0; n < qs.length; n++) out.push([qs[n], n < vals.length ? vals[n] : fallback]);
}
for (var c = 0; c < curveHz.length; c++) {
    var pts = [];
    pairUp(qGamma, gammaRows[c], 0, pts);
    pairUp(qFlatA, [], flatLevel, pts);
    pairUp(qPeak1, peak1Rows[c], 0, pts);
    pairUp(qFlatB, [], flatLevel, pts);
    pairUp(qBand, bandRows[c], tailLevel, pts);
    pairUp(qFlatC, [], flatLevel, pts);
    pairUp(qEnd, endRows[c], 0, pts);
    option.series.push({type: 'line', xAxisIndex: exi, yAxisIndex: eyi, data: pts, symbol: 'none', silent: true, smooth: .25, z: 2,
        lineStyle: {color: viridis((2.4 - curveHz[c]) / 1.2), width: 5.5}});
}
for (i = 0; i < annotQ.length; i++) {
    option.series.push({type: 'scatter', xAxisIndex: exi, yAxisIndex: eyi, data: [[annotQ[i], annotArrowY[i]]], silent: true, z: 4,
        symbol: 'path://M3.5 0h3v6h3.5L5 14 0 6h3.5z', symbolSize: [16, 24], itemStyle: {color: '#4878d0', opacity: 1}});
    option.series.push({type: 'scatter', xAxisIndex: exi, yAxisIndex: eyi, data: [[annotQ[i], annotTextY[i]]], silent: true, z: 4,
        symbolSize: 1, itemStyle: {color: 'rgba(0,0,0,0)', opacity: 1},
        label: {show: true, position: 'inside', formatter: annotText[i], color: INK, fontFamily: FONT, fontSize: 40,
            rich: {i: {fontFamily: FONT, fontStyle: 'italic', fontSize: 40, color: INK}}}});
}

// inset
var ig = option.grid.length;
option.grid.push({left: 505, top: 2205, width: 484, height: 364, show: true, backgroundColor: '#fff', borderWidth: 0, z: 3});
var ixi = option.xAxis.length, iyi = option.yAxis.length;
option.xAxis.push(tickAxis({type: 'value', gridIndex: ig, position: 'bottom', min: 1.2, max: 2.4, interval: .4,
    name: subName('h', 'z'), nameLocation: 'middle', nameGap: 87, nameTextStyle: {rich: nameRich}}, 35, function(v) { return v.toFixed(1); }));
option.xAxis.push(lineAxis({type: 'value', gridIndex: ig, position: 'top', min: 1.2, max: 2.4}));
option.yAxis.push(tickAxis({type: 'value', gridIndex: ig, position: 'left', min: .0789, max: .35,
    name: '⟨{b|m}⟩', nameLocation: 'middle', nameGap: 112, nameRotate: 90, nameTextStyle: {fontFamily: FONT, fontSize: 40, color: INK, rich: nameRich}}, 33,
    function(v) { return v.toFixed(1); }, [.1, .2, .3]));
option.yAxis.push(lineAxis({type: 'value', gridIndex: ig, position: 'right', min: .0789, max: .35}));
option.series.push({type: 'custom', xAxisIndex: ixi, yAxisIndex: iyi, data: [[0]], silent: true, z: 3, renderItem: function(params, api) {
    var poly = [];
    for (var n = 0; n < insetHz.length; n++) poly.push(api.coord([insetHz[n], insetM[n] + insetErr[n]]));
    for (n = insetHz.length - 1; n >= 0; n--) poly.push(api.coord([insetHz[n], insetM[n] - insetErr[n]]));
    return {type: 'polygon', shape: {points: poly}, style: {fill: 'rgba(72,120,208,0.25)'}};
}});
var blueData = [], blackData = [];
for (i = 0; i < insetHz.length; i++) blueData.push([insetHz[i], insetM[i]]);
for (i = 0; i < plateauHz.length; i++) blackData.push([plateauHz[i], plateauM[i]]);
option.series.push({type: 'line', xAxisIndex: ixi, yAxisIndex: iyi, data: blueData, symbol: 'none', silent: true, z: 4, lineStyle: {color: '#4878d0', width: 5}});
option.series.push({type: 'line', xAxisIndex: ixi, yAxisIndex: iyi, data: blackData, symbol: 'none', silent: true, z: 4, lineStyle: {color: '#1a1a1a', width: 6, join: 'miter'}});

// colour strip at the foot of the inset, hz runs left to right
var sg = option.grid.length, stripCells = [], stripN = 160;
option.grid.push({left: 505, top: 2533, width: 484, height: 36, show: false, z: 4});
for (i = 0; i < stripN; i++) stripCells.push([i, 0, 1.2 + (i + .5) / stripN * 1.2]);
var sxi = option.xAxis.length, syi = option.yAxis.length;
option.xAxis.push(lineAxis({type: 'category', gridIndex: sg, position: 'top', data: catData(stripN)}));
option.yAxis.push(lineAxis({type: 'category', gridIndex: sg, position: 'left', data: [0]}));
var stripIdx = option.series.length;
option.series.push({type: 'heatmap', xAxisIndex: sxi, yAxisIndex: syi, data: stripCells, silent: true, progressive: 0, z: 4, emphasis: {disabled: true}});
option.visualMap.push({show: false, type: 'continuous', seriesIndex: [stripIdx], dimension: 2, min: 1.2, max: 2.4, inRange: {color: viridisStops.slice().reverse()}});

// texts
var qVec = '{i|S}({i|q\u20D7})';
addTitle('Néel AFM ' + qVec, 566, 48, 42, 'normal', 'center');
addTitle('Dimer AFM ' + qVec, 1708, 48, 42, 'normal', 'center');
addTitle('1/3 Plateau ' + qVec, 566, 1100, 42, 'normal', 'center');
addTitle('Intermediate Néel to 1/3 ' + qVec, 1708, 1100, 42, 'normal', 'center');
addTitle('a)', 46, 71, 40, 'bold', 'left');
addTitle('b)', 1190, 71, 40, 'bold', 'left');
addTitle('c)', 46, 1124, 40, 'bold', 'left');
addTitle('d)', 1190, 1124, 40, 'bold', 'left');
addTitle('e)', 30, 2177, 40, 'bold', 'left');

var chart = echarts.init(document.getElementById('chart'), null, {renderer: 'canvas', width: 2329, height: 3027});
chart.setOption(option);
</script>
</body>
</html>
